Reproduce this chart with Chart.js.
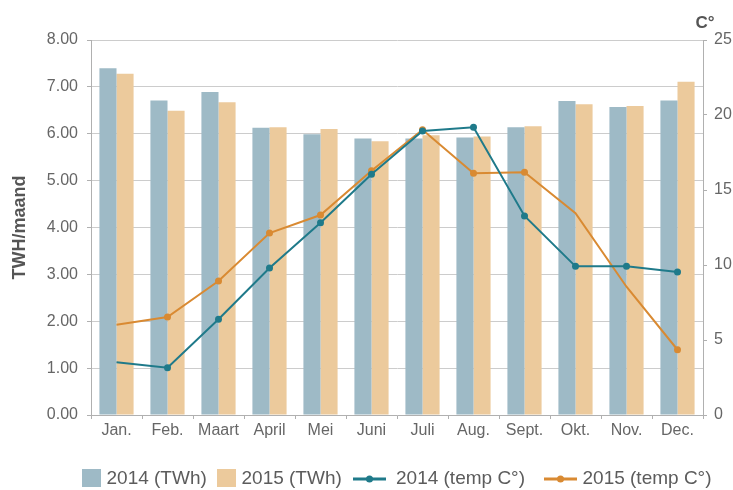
<!DOCTYPE html>
<html>
<head>
<meta charset="utf-8">
<script src="https://cdn.jsdelivr.net/npm/chart.js@4.4.1/dist/chart.umd.min.js"></script>
<style>
  html, body { margin: 0; padding: 0; background: #fff; }
  #wrap { width: 733px; height: 490px; position: relative; }
</style>
</head>
<body>
<div id="wrap"><canvas id="c" width="733" height="490"></canvas></div>
<script>
const months = ['Jan.', 'Feb.', 'Maart', 'April', 'Mei', 'Juni', 'Juli', 'Aug.', 'Sept.', 'Okt.', 'Nov.', 'Dec.'];
const twh2014 = [7.40, 6.71, 6.89, 6.13, 5.99, 5.90, 5.90, 5.92, 6.14, 6.70, 6.57, 6.71];
const twh2015 = [7.28, 6.49, 6.67, 6.14, 6.10, 5.84, 5.97, 5.94, 6.16, 6.63, 6.59, 7.11];
const temp2014 = [3.51, 3.15, 6.38, 9.80, 12.82, 16.05, 18.93, 19.18, 13.27, 9.91, 9.91, 9.53];
const temp2015 = [6.02, 6.53, 8.93, 12.13, 13.33, 16.29, 19.02, 16.11, 16.18, 13.45, 8.55, 4.35];
const markers2014 = [0, 1, 1, 1, 1, 1, 1, 1, 1, 1, 1, 1];
const markers2015 = [0, 1, 1, 1, 1, 1, 1, 1, 1, 0, 0, 1];
const leftTicksMax = 8;
const rightTicksMax = 25;
const legendLabels = ['2014 (TWh)', '2015 (TWh)', '2014 (temp C°)', '2015 (temp C°)'];

const FONT = '"Liberation Sans", Arial, Helvetica, sans-serif';
const C_BAR14 = '#9ebac6';
const C_BAR15 = '#ecca9c';
const C_LINE14 = '#1f7a8a';
const C_LINE15 = '#d98a32';

const legendPlugin = {
  id: 'customLegend',
  afterDraw(chart) {
    const ctx = chart.ctx;
    const cy = 478;
    const items = [
      { type: 'rect', x: 82, tx: 106.5, color: C_BAR14 },
      { type: 'rect', x: 217, tx: 241.5, color: C_BAR15 },
      { type: 'line', x: 353, tx: 396, color: C_LINE14 },
      { type: 'line', x: 544, tx: 582.5, color: C_LINE15 }
    ];
    ctx.save();
    items.forEach((it, i) => {
      if (it.type === 'rect') {
        ctx.fillStyle = it.color;
        ctx.fillRect(it.x, cy - 9, 19, 18);
      } else {
        ctx.strokeStyle = it.color;
        ctx.lineWidth = 3;
        ctx.beginPath();
        ctx.moveTo(it.x, cy + 1);
        ctx.lineTo(it.x + 33, cy + 1);
        ctx.stroke();
        ctx.fillStyle = it.color;
        ctx.beginPath();
        ctx.arc(it.x + 16.5, cy + 1, 3.5, 0, Math.PI * 2);
        ctx.fill();
      }
      ctx.fillStyle = '#5c5c5c';
      ctx.font = '19px ' + FONT;
      ctx.textBaseline = 'middle';
      ctx.textAlign = 'left';
      ctx.fillText(legendLabels[i], it.tx, cy + 1);
    });
    // right axis unit
    const y1 = chart.scales.y1;
    ctx.fillStyle = '#555';
    ctx.font = 'bold 17px ' + FONT;
    ctx.textAlign = 'center';
    ctx.textBaseline = 'middle';
    ctx.fillText('C°', y1.left + 2, y1.top - 17);
    ctx.restore();
  }
};

new Chart(document.getElementById('c'), {
  data: {
    labels: months,
    datasets: [
      { type: 'bar', label: legendLabels[0], data: twh2014, backgroundColor: C_BAR14, yAxisID: 'y', order: 2, barPercentage: 1.0, categoryPercentage: 0.67 },
      { type: 'bar', label: legendLabels[1], data: twh2015, backgroundColor: C_BAR15, yAxisID: 'y', order: 2, barPercentage: 1.0, categoryPercentage: 0.67 },
      { type: 'line', label: legendLabels[2], data: temp2014, borderColor: C_LINE14, backgroundColor: C_LINE14, borderWidth: 2, pointRadius: markers2014.map(m => m ? 3.5 : 0), pointBorderWidth: 0, tension: 0, yAxisID: 'y1', order: 0 },
      { type: 'line', label: legendLabels[3], data: temp2015, borderColor: C_LINE15, backgroundColor: C_LINE15, borderWidth: 2, pointRadius: markers2015.map(m => m ? 3.5 : 0), pointBorderWidth: 0, tension: 0, yAxisID: 'y1', order: 1 }
    ]
  },
  options: {
    responsive: false,
    animation: false,
    layout: { padding: { top: 40, bottom: 45, left: 0, right: 0 } },
    plugins: {
      legend: { display: false },
      tooltip: { enabled: false },
      title: { display: false }
    },
    scales: {
      x: {
        offset: true,
        grid: { offset: true, drawOnChartArea: false, drawTicks: true, tickLength: 4, color: '#b0b0b0' },
        border: { color: '#b0b0b0', width: 1 },
        ticks: { color: '#666', font: { family: FONT, size: 16 }, padding: 2, maxRotation: 0, autoSkip: false },
        afterFit(s) { s.height = 30; }
      },
      y: {
        position: 'left',
        min: 0, max: leftTicksMax,
        ticks: { stepSize: 1, color: '#666', font: { family: FONT, size: 16 }, padding: 9, callback: v => Number(v).toFixed(2) },
        grid: { color: '#cccccc', tickColor: '#b0b0b0', tickLength: 4, lineWidth: 1 },
        border: { color: '#b0b0b0', width: 1 },
        title: { display: true, text: 'TWH/maand', color: '#555', font: { family: FONT, size: 18, weight: 'bold' }, padding: { top: 9, bottom: 0 } },
        afterFit(s) { s.width = 91; }
      },
      y1: {
        position: 'right',
        min: 0, max: rightTicksMax,
        ticks: { stepSize: 5, color: '#666', font: { family: FONT, size: 16 }, padding: 7 },
        grid: { drawOnChartArea: false, tickColor: '#b0b0b0', tickLength: 4 },
        border: { color: '#b0b0b0', width: 1 },
        afterFit(s) { s.width = 30; }
      }
    }
  },
  plugins: [legendPlugin]
});
</script>
</body>
</html>
